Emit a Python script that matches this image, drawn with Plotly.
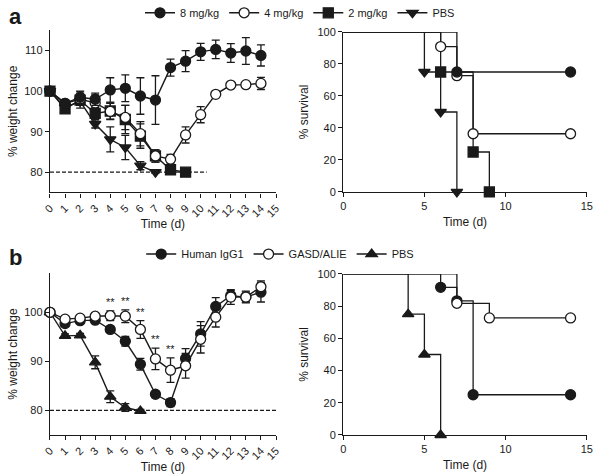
import plotly.graph_objects as go

days = list(range(15))

# Panel a weight change
a_8 = [100, 97.0, 98.5, 98.0, 100.3, 100.7, 98.8, 97.8, 105.8, 107.4, 109.7, 110.3, 109.4, 109.9, 108.8]
a_8_err = [0, 0.8, 1.5, 1.5, 3.0, 3.3, 4.5, 6.0, 2.1, 2.6, 2.1, 2.3, 2.3, 3.3, 2.6]
a_4 = [100, 97.0, 98.0, 97.1, 95.0, 93.5, 89.5, 84.0, 83.2, 89.2, 94.2, 99.2, 101.5, 101.6, 101.9]
a_4_err = [0, 0.8, 1.0, 2.0, 2.0, 3.0, 3.0, 1.5, 1.2, 2.0, 2.0, 0.6, 0.5, 0.5, 1.5]
a_2 = [100, 95.6, 97.8, 94.5, 95.1, 93.0, 88.9, 84.0, 80.6, 80.0]
a_2_err = [0, 0.8, 2.0, 1.5, 2.0, 3.5, 3.0, 1.5, 0.5, 0.3]
a_pbs = [100, 96.0, 97.5, 91.9, 88.1, 86.1, 81.6, 80.0]
a_pbs_err = [0, 0.8, 1.0, 1.0, 3.1, 3.0, 1.0, 0.3]

# Panel a survival
sa_8_t = [0, 7, 14];            sa_8_s = [100, 75, 75]
sa_4_t = [0, 6, 7, 8, 14];      sa_4_s = [100, 90.9, 72.7, 36.4, 36.4]
sa_2_t = [0, 6, 8, 9];          sa_2_s = [100, 75, 25, 0]
sa_p_t = [0, 5, 6, 7];          sa_p_s = [100, 75, 50, 0]

# Panel b weight change
b_igg = [100, 97.7, 98.3, 98.4, 96.5, 94.1, 89.4, 83.3, 81.6, 90.6, 95.6, 101.2, 103.4, 103.1, 104.1]
b_igg_err = [0, 0.6, 0.5, 0.5, 0.6, 1.0, 1.2, 0.6, 0.8, 2.0, 2.5, 1.8, 1.0, 1.0, 2.0]
b_gasd = [100, 98.6, 98.8, 99.2, 99.3, 99.2, 96.5, 90.5, 88.2, 89.1, 94.5, 99.0, 103.1, 103.1, 105.2]
b_gasd_err = [0, 0.6, 0.5, 0.5, 1.0, 1.3, 1.8, 2.2, 2.5, 2.5, 2.8, 2.0, 1.5, 1.2, 1.2]
b_pbs = [100, 95.2, 95.3, 89.8, 82.8, 80.6, 79.9]
b_pbs_err = [0, 0.4, 0.4, 1.3, 1.2, 0.8, 0.3]
sig_days = [4, 5, 6, 7, 8]
sig_label = "**"

# Panel b survival
sb_igg_t = [0, 6, 7, 8, 14];    sb_igg_s = [100, 91.7, 83.3, 25, 25]
sb_gasd_t = [0, 7, 9, 14];      sb_gasd_s = [100, 81.8, 72.7, 72.7]
sb_pbs_t = [0, 4, 5, 6];        sb_pbs_s = [100, 75, 50, 0]

threshold = 80
FONT = "Liberation Sans, Arial, sans-serif"
INK = "#1a1a1a"
MS = 10

fig = go.Figure()

def weight(x, y, err, name, symbol, fill, xa, ya, legend, rank):
    fig.add_trace(go.Scatter(
        x=x, y=y, mode="lines+markers", name=name, legendrank=rank,
        line=dict(color=INK, width=1.4),
        marker=dict(symbol=symbol, size=MS, color=fill, opacity=1, line=dict(color=INK, width=1.3)),
        error_y=dict(type="data", array=err, visible=True, color=INK, thickness=1.3, width=4),
        xaxis=xa, yaxis=ya, legend=legend, cliponaxis=False))

def survival(t, s, symbol, fill, xa, ya):
    sizes = [0] + [MS] * (len(t) - 1)
    fig.add_trace(go.Scatter(
        x=t, y=s, mode="lines+markers", line_shape="hv", showlegend=False,
        line=dict(color=INK, width=1.3),
        marker=dict(symbol=symbol, size=sizes, color=fill, opacity=1, line=dict(color=INK, width=1.3)),
        xaxis=xa, yaxis=ya, cliponaxis=False))

# threshold dashed lines
fig.add_trace(go.Scatter(x=[0, 10.4], y=[threshold, threshold], mode="lines", showlegend=False,
                         line=dict(color=INK, width=1.2, dash="4px,2px"), xaxis="x", yaxis="y"))
fig.add_trace(go.Scatter(x=[0, 15], y=[threshold, threshold], mode="lines", showlegend=False,
                         line=dict(color=INK, width=1.2, dash="4px,2px"), xaxis="x3", yaxis="y3"))

weight(days[:len(a_pbs)], a_pbs, a_pbs_err, "PBS", "triangle-down", INK, "x", "y", "legend", 4)
weight(days[:len(a_2)], a_2, a_2_err, "2 mg/kg", "square", INK, "x", "y", "legend", 3)
weight(days, a_4, a_4_err, "4 mg/kg", "circle", "white", "x", "y", "legend", 2)
weight(days, a_8, a_8_err, "8 mg/kg", "circle", INK, "x", "y", "legend", 1)

survival(sa_p_t, sa_p_s, "triangle-down", INK, "x2", "y2")
survival(sa_2_t, sa_2_s, "square", INK, "x2", "y2")
survival(sa_4_t, sa_4_s, "circle", "white", "x2", "y2")
survival(sa_8_t, sa_8_s, "circle", INK, "x2", "y2")

weight(days[:len(b_pbs)], b_pbs, b_pbs_err, "PBS", "triangle-up", INK, "x3", "y3", "legend2", 3)
weight(days, b_igg, b_igg_err, "Human IgG1", "circle", INK, "x3", "y3", "legend2", 1)
weight(days, b_gasd, b_gasd_err, "GASD/ALIE", "circle", "white", "x3", "y3", "legend2", 2)

survival(sb_pbs_t, sb_pbs_s, "triangle-up", INK, "x4", "y4")
survival(sb_igg_t, sb_igg_s, "circle", INK, "x4", "y4")
survival(sb_gasd_t, sb_gasd_s, "circle", "white", "x4", "y4")

annotations = []
for d in sig_days:
    annotations.append(dict(x=d, y=b_gasd[d] + b_gasd_err[d], xref="x3", yref="y3", text=sig_label,
                            showarrow=False, yanchor="bottom", yshift=1,
                            font=dict(family=FONT, size=11, color=INK)))
annotations.append(dict(x=0.012, y=0.995, xref="paper", yref="paper", text="<b>a</b>", showarrow=False,
                        xanchor="left", yanchor="top", font=dict(family=FONT, size=22, color=INK)))
annotations.append(dict(x=0.012, y=0.487, xref="paper", yref="paper", text="<b>b</b>", showarrow=False,
                        xanchor="left", yanchor="top", font=dict(family=FONT, size=22, color=INK)))

axis_common = dict(showline=True, linecolor=INK, linewidth=1.4, ticks="outside", ticklen=4,
                   tickwidth=1.2, tickcolor=INK, showgrid=False, zeroline=False, automargin=False,
                   tickfont=dict(family=FONT, size=11, color=INK),
                   title_font=dict(family=FONT, size=12, color=INK))

wx = dict(axis_common, range=[0, 15], tickvals=list(range(16)), tickangle=-45,
          title_text="Time (d)", title_standoff=1)
sx = dict(axis_common, range=[0, 15], tickvals=[0, 5, 10, 15], title_text="Time (d)", title_standoff=6)

fig.update_layout(
    width=600, height=474, margin=dict(l=0, r=0, t=0, b=0, autoexpand=False),
    paper_bgcolor="white", plot_bgcolor="white",
    font=dict(family=FONT, color=INK),
    xaxis=dict(wx, domain=[0.0833, 0.46], anchor="y"),
    yaxis=dict(axis_common, domain=[0.594, 0.936], range=[75, 115], tickvals=[80, 90, 100, 110],
               title_text="% weight change", title_standoff=4, anchor="x"),
    xaxis2=dict(sx, domain=[0.572, 0.978], anchor="y2"),
    yaxis2=dict(axis_common, domain=[0.595, 0.9325], range=[0, 100], tickvals=[0, 20, 40, 60, 80, 100],
                title_text="% survival", title_standoff=6, anchor="x2"),
    xaxis3=dict(wx, domain=[0.0833, 0.46], anchor="y3"),
    yaxis3=dict(axis_common, domain=[0.0823, 0.424], range=[75, 108], tickvals=[80, 90, 100],
                title_text="% weight change", title_standoff=4, anchor="x3"),
    xaxis4=dict(sx, domain=[0.572, 0.978], anchor="y4"),
    yaxis4=dict(axis_common, domain=[0.0823, 0.422], range=[0, 100], tickvals=[0, 20, 40, 60, 80, 100],
                title_text="% survival", title_standoff=6, anchor="x4"),
    legend=dict(orientation="h", x=0.5, y=0.973, xanchor="center", yanchor="middle",
                font=dict(family=FONT, size=11, color=INK), bgcolor="rgba(0,0,0,0)"),
    legend2=dict(orientation="h", x=0.467, y=0.464, xanchor="center", yanchor="middle",
                 font=dict(family=FONT, size=11, color=INK), bgcolor="rgba(0,0,0,0)"),
    annotations=annotations,
)

fig.write_html("out.html", config={"displayModeBar": False},
               post_script="document.body.style.margin='0';")
